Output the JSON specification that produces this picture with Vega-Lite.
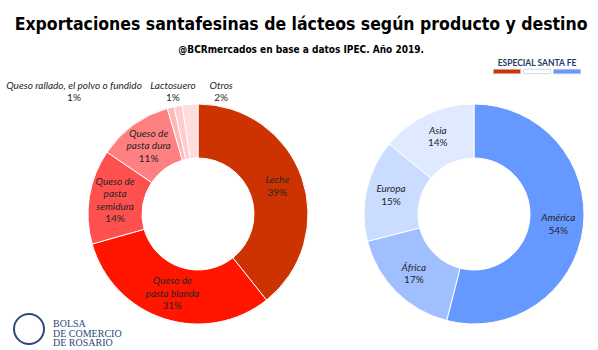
{
  "$schema": "https://vega.github.io/schema/vega-lite/v6.json",
  "background": "white",
  "padding": {"left": 6, "top": 15, "right": 5, "bottom": 0},
  "bounds": "flush",
  "title": {
    "text": "Exportaciones santafesinas de lácteos según producto y destino",
    "subtitle": "@BCRmercados en base a datos IPEC. Año 2019.",
    "font": "DejaVu Sans Condensed",
    "fontSize": 17.5,
    "fontWeight": "bold",
    "color": "#000000",
    "subtitleFont": "DejaVu Sans Condensed",
    "subtitleFontSize": 10,
    "subtitleFontWeight": "bold",
    "subtitleColor": "#000000",
    "subtitlePadding": 12,
    "anchor": "middle",
    "dx": 5,
    "offset": 4
  },
  "spacing": 28,
  "resolve": {
    "scale": {"color": "independent", "theta": "independent", "fill": "independent", "stroke": "independent"},
    "legend": {"fill": "independent", "stroke": "independent"}
  },
  "config": {"view": {"stroke": null}},
  "hconcat": [
    {
      "width": 290,
      "height": 220,
      "title": {
        "text": ["BOLSA", "DE COMERCIO", "DE ROSARIO"],
        "orient": "bottom",
        "anchor": "start",
        "frame": "group",
        "font": "Liberation Serif",
        "fontSize": 10,
        "fontWeight": "normal",
        "color": "#2b4a7a",
        "lineHeight": 9.5,
        "offset": -29
      },
      "data": {
        "values": [
          {"producto": "Leche", "share": 39.3, "orden": 1, "nombre": ["Leche"], "pct": "39%"},
          {"producto": "Queso de pasta blanda", "share": 31.3, "orden": 2, "nombre": ["Queso de", "pasta blanda"], "pct": "31%"},
          {"producto": "Queso de pasta semidura", "share": 13.9, "orden": 3, "nombre": ["Queso de", "pasta", "semidura"], "pct": "14%"},
          {"producto": "Queso de pasta dura", "share": 11.0, "orden": 4, "nombre": ["Queso de", "pasta dura"], "pct": "11%"},
          {"producto": "Queso rallado, el polvo o fundido", "share": 1.0, "orden": 5, "nombre": [], "pct": "1%"},
          {"producto": "Lactosuero", "share": 1.2, "orden": 6, "nombre": [], "pct": "1%"},
          {"producto": "Otros", "share": 2.3, "orden": 7, "nombre": [], "pct": "2%"}
        ]
      },
      "encoding": {
        "theta": {"field": "share", "type": "quantitative", "stack": true},
        "order": {"field": "orden", "type": "quantitative"}
      },
      "layer": [
        {
          "mark": {"type": "arc", "innerRadius": 56, "outerRadius": 110, "stroke": "white", "strokeWidth": 1},
          "encoding": {
            "color": {
              "field": "producto",
              "type": "nominal",
              "legend": null,
              "scale": {
                "domain": ["Leche", "Queso de pasta blanda", "Queso de pasta semidura", "Queso de pasta dura", "Queso rallado, el polvo o fundido", "Lactosuero", "Otros"],
                "range": ["#cc3300", "#ff1500", "#ff5050", "#ff8080", "#ffb8b8", "#ffcccc", "#ffdddd"]
              }
            }
          }
        },
        {
          "mark": {"type": "text", "radius": 84, "dy": -6.25, "font": "Lato", "fontSize": 10, "fontStyle": "italic", "color": "#262626", "baseline": "middle", "lineHeight": 12.5},
          "encoding": {"text": {"condition": {"test": "length(datum.nombre) == 1", "field": "nombre"}, "value": ""}}
        },
        {
          "mark": {"type": "text", "radius": 84, "dy": 6.25, "font": "Lato", "fontSize": 10, "color": "#262626", "baseline": "middle"},
          "encoding": {"text": {"condition": {"test": "length(datum.nombre) == 1", "field": "pct"}, "value": ""}}
        },
        {
          "mark": {"type": "text", "radius": 84, "dy": -12.5, "font": "Lato", "fontSize": 10, "fontStyle": "italic", "color": "#262626", "baseline": "middle", "lineHeight": 12.5},
          "encoding": {"text": {"condition": {"test": "length(datum.nombre) == 2", "field": "nombre"}, "value": ""}}
        },
        {
          "mark": {"type": "text", "radius": 84, "dy": 12.5, "font": "Lato", "fontSize": 10, "color": "#262626", "baseline": "middle"},
          "encoding": {"text": {"condition": {"test": "length(datum.nombre) == 2", "field": "pct"}, "value": ""}}
        },
        {
          "mark": {"type": "text", "radius": 84, "dy": -18.75, "font": "Lato", "fontSize": 10, "fontStyle": "italic", "color": "#262626", "baseline": "middle", "lineHeight": 12.5},
          "encoding": {"text": {"condition": {"test": "length(datum.nombre) == 3", "field": "nombre"}, "value": ""}}
        },
        {
          "mark": {"type": "text", "radius": 84, "dy": 18.75, "font": "Lato", "fontSize": 10, "color": "#262626", "baseline": "middle"},
          "encoding": {"text": {"condition": {"test": "length(datum.nombre) == 3", "field": "pct"}, "value": ""}}
        },
        {
          "transform": [
            {"stack": "share", "groupby": [], "sort": [{"field": "orden"}], "as": ["s0", "s1"]},
            {"filter": "datum.orden == 5"}
          ],
          "layer": [
            {
              "mark": {"type": "text", "radius": 124, "dx": -89.4, "dy": -9.15, "font": "Lato", "fontSize": 10, "fontStyle": "italic", "color": "#262626", "baseline": "middle"},
              "encoding": {"theta": {"field": "s0", "type": "quantitative", "stack": null}, "text": {"field": "producto"}}
            },
            {
              "mark": {"type": "text", "radius": 124, "dx": -89.4, "dy": 3.35, "font": "Lato", "fontSize": 10, "color": "#262626", "baseline": "middle"},
              "encoding": {"theta": {"field": "s0", "type": "quantitative", "stack": null}, "text": {"field": "pct"}}
            }
          ]
        },
        {
          "transform": [
            {"stack": "share", "groupby": [], "sort": [{"field": "orden"}], "as": ["s0", "s1"]},
            {"filter": "datum.orden == 6"}
          ],
          "layer": [
            {
              "mark": {"type": "text", "radius": 124, "dx": 2, "dy": -7.25, "font": "Lato", "fontSize": 10, "fontStyle": "italic", "color": "#262626", "baseline": "middle"},
              "encoding": {"theta": {"field": "s0", "type": "quantitative", "stack": null}, "text": {"field": "producto"}}
            },
            {
              "mark": {"type": "text", "radius": 124, "dx": 2, "dy": 5.25, "font": "Lato", "fontSize": 10, "color": "#262626", "baseline": "middle"},
              "encoding": {"theta": {"field": "s0", "type": "quantitative", "stack": null}, "text": {"field": "pct"}}
            }
          ]
        },
        {
          "transform": [
            {"stack": "share", "groupby": [], "sort": [{"field": "orden"}], "as": ["s0", "s1"]},
            {"filter": "datum.orden == 7"}
          ],
          "layer": [
            {
              "mark": {"type": "text", "radius": 124, "dx": 41, "dy": -5.55, "font": "Lato", "fontSize": 10, "fontStyle": "italic", "color": "#262626", "baseline": "middle"},
              "encoding": {"theta": {"field": "s0", "type": "quantitative", "stack": null}, "text": {"field": "producto"}}
            },
            {
              "mark": {"type": "text", "radius": 124, "dx": 41, "dy": 6.95, "font": "Lato", "fontSize": 10, "color": "#262626", "baseline": "middle"},
              "encoding": {"theta": {"field": "s0", "type": "quantitative", "stack": null}, "text": {"field": "pct"}}
            }
          ]
        },
        {
          "data": {"values": [{"centro": "PRODUCTOS"}]},
          "mark": {"type": "text", "font": "Lato", "fontSize": 12, "fontWeight": "bold", "color": "#000000", "baseline": "middle"},
          "encoding": {"text": {"field": "centro"}}
        },
        {
          "data": {"values": [{"sello": "BCR"}]},
          "mark": {"type": "text", "text": "", "fill": "#ffffff"},
          "encoding": {
            "stroke": {
              "field": "sello",
              "type": "nominal",
              "scale": {"domain": ["BCR"], "range": ["#2b4a7a"]},
              "legend": {
                "orient": "none",
                "legendX": -40,
                "legendY": 209,
                "title": null,
                "symbolType": "circle",
                "symbolSize": 900,
                "symbolStrokeWidth": 2,
                "symbolFillColor": "#ffffff",
                "symbolOpacity": 1,
                "labelExpr": "''",
                "labelOffset": 0,
                "padding": 0
              }
            }
          }
        }
      ]
    },
    {
      "width": 206,
      "height": 220,
      "data": {
        "values": [
          {"destino": "América", "share": 54, "orden": 1, "pct": "54%"},
          {"destino": "África", "share": 17, "orden": 2, "pct": "17%"},
          {"destino": "Europa", "share": 15, "orden": 3, "pct": "15%"},
          {"destino": "Asia", "share": 14, "orden": 4, "pct": "14%"}
        ]
      },
      "encoding": {
        "theta": {"field": "share", "type": "quantitative", "stack": true},
        "order": {"field": "orden", "type": "quantitative"}
      },
      "layer": [
        {
          "mark": {"type": "arc", "innerRadius": 56, "outerRadius": 110, "stroke": "white", "strokeWidth": 1},
          "encoding": {
            "color": {
              "field": "destino",
              "type": "nominal",
              "legend": null,
              "scale": {
                "domain": ["América", "África", "Europa", "Asia"],
                "range": ["#6699ff", "#a0bfff", "#cadcff", "#dfe9ff"]
              }
            }
          }
        },
        {
          "mark": {"type": "text", "radius": 85, "dy": -6.25, "font": "Lato", "fontSize": 10, "fontStyle": "italic", "color": "#262626", "baseline": "middle"},
          "encoding": {"text": {"field": "destino"}}
        },
        {
          "mark": {"type": "text", "radius": 85, "dy": 6.25, "font": "Lato", "fontSize": 10, "color": "#262626", "baseline": "middle"},
          "encoding": {"text": {"field": "pct"}}
        },
        {
          "data": {"values": [{"centro": "DESTINOS"}]},
          "mark": {"type": "text", "font": "Lato", "fontSize": 12, "fontWeight": "bold", "color": "#000000", "baseline": "middle"},
          "encoding": {"text": {"field": "centro"}}
        },
        {
          "data": {
            "values": [
              {"franja": "rojo"},
              {"franja": "blanco"},
              {"franja": "azul"}
            ]
          },
          "mark": {"type": "text", "text": ""},
          "encoding": {
            "fill": {
              "field": "franja",
              "type": "nominal",
              "scale": {"domain": ["rojo", "blanco", "azul"], "range": ["#cc3300", "#ffffff", "#6699ff"]},
              "legend": {
                "orient": "none",
                "legendX": 122,
                "legendY": -45,
                "direction": "horizontal",
                "title": "ESPECIAL SANTA FE",
                "titleFont": "Lato",
                "titleFontSize": 8.5,
                "titleFontWeight": "bold",
                "titleColor": "#1f3864",
                "titleAnchor": "middle",
                "titlePadding": -10,
                "symbolType": "M-1,-0.16H1V0.16H-1Z",
                "symbolSize": 729,
                "symbolStrokeWidth": 0.6,
                "symbolStrokeColor": "#b4c2dc",
                "symbolOpacity": 1,
                "labelExpr": "''",
                "labelOffset": 0,
                "columnPadding": 0,
                "padding": 0
              }
            }
          }
        }
      ]
    }
  ]
}
